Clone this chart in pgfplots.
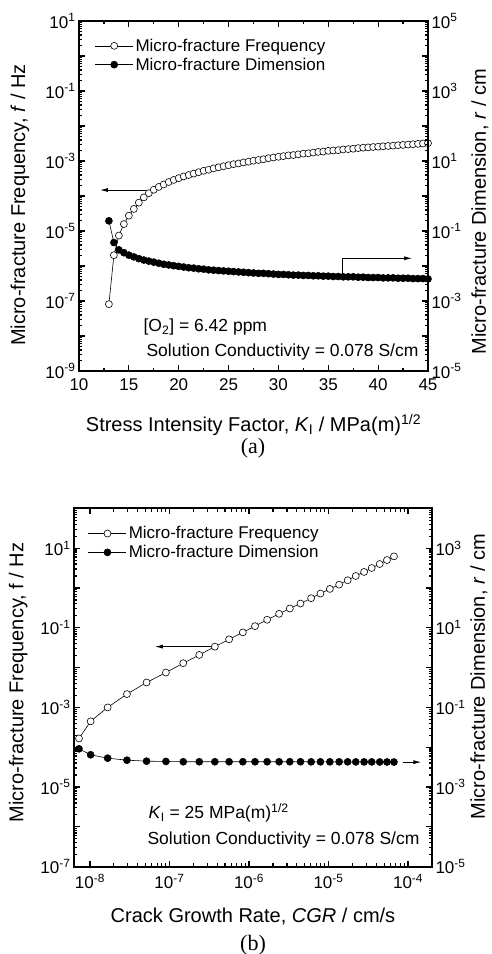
\documentclass[border=0pt]{standalone}
\usepackage{fontspec}
\setmainfont{Liberation Sans}
\newfontfamily\seriffont{Liberation Serif}
\usepackage{pgfplots}
\usepackage{pgfplotstable}
\pgfplotsset{compat=1.18}
\usetikzlibrary{arrows.meta}

\pgfplotstableread{
K f
13.0 8.13e-8
13.5 2.04e-6
14.0 7.41e-6
14.5 1.58e-5
15.0 2.75e-5
15.5 4.27e-5
16.0 6.46e-5
16.5 9.12e-5
17.0 1.20e-4
17.5 1.51e-4
18.0 1.82e-4
18.5 2.14e-4
19.0 2.51e-4
19.5 2.88e-4
20.0 3.24e-4
20.5 3.63e-4
21.0 3.98e-4
21.5 4.37e-4
22.0 4.79e-4
22.5 5.25e-4
23.0 5.62e-4
23.5 6.17e-4
24.0 6.61e-4
24.5 7.08e-4
25.0 7.59e-4
25.5 8.13e-4
26.0 8.51e-4
26.5 9.12e-4
27.0 9.55e-4
27.5 1.02e-3
28.0 1.07e-3
28.5 1.12e-3
29.0 1.20e-3
29.5 1.26e-3
30.0 1.32e-3
30.5 1.38e-3
31.0 1.45e-3
31.5 1.48e-3
32.0 1.55e-3
32.5 1.62e-3
33.0 1.66e-3
33.5 1.74e-3
34.0 1.82e-3
34.5 1.86e-3
35.0 1.95e-3
35.5 2.00e-3
36.0 2.04e-3
36.5 2.14e-3
37.0 2.19e-3
37.5 2.24e-3
38.0 2.34e-3
38.5 2.40e-3
39.0 2.45e-3
39.5 2.51e-3
40.0 2.57e-3
40.5 2.63e-3
41.0 2.69e-3
41.5 2.75e-3
42.0 2.82e-3
42.5 2.88e-3
43.0 2.95e-3
43.5 3.02e-3
44.0 3.09e-3
44.5 3.16e-3
45.0 3.24e-3
}\freqA

\pgfplotstableread{
K r
13.0 0.195
13.5 0.0468
14.0 0.0288
14.5 0.0240
15.0 0.0204
15.5 0.0182
16.0 0.0162
16.5 0.0148
17.0 0.0138
17.5 0.0129
18.0 0.0120
18.5 0.0112
19.0 0.0107
19.5 0.0102
20.0 0.00977
20.5 0.00933
21.0 0.00891
21.5 0.00871
22.0 0.00832
22.5 0.00813
23.0 0.00776
23.5 0.00759
24.0 0.00741
24.5 0.00724
25.0 0.00708
25.5 0.00692
26.0 0.00676
26.5 0.00661
27.0 0.00646
27.5 0.00631
28.0 0.00617
28.5 0.00617
29.0 0.00603
29.5 0.00589
30.0 0.00575
30.5 0.00575
31.0 0.00562
31.5 0.00550
32.0 0.00550
32.5 0.00537
33.0 0.00537
33.5 0.00525
34.0 0.00525
34.5 0.00513
35.0 0.00513
35.5 0.00501
36.0 0.00501
36.5 0.00490
37.0 0.00490
37.5 0.00490
38.0 0.00479
38.5 0.00479
39.0 0.00468
39.5 0.00468
40.0 0.00468
40.5 0.00457
41.0 0.00457
41.5 0.00457
42.0 0.00447
42.5 0.00447
43.0 0.00447
43.5 0.00437
44.0 0.00437
44.5 0.00437
45.0 0.00427
}\dimA

\pgfplotstableread{
CGR f r
7.28e-9 1.66e-4 0.00912
1.02e-8 4.48e-4 0.00646
1.67e-8 1.00e-3 0.00531
2.92e-8 2.16e-3 0.00473
5.15e-8 4.23e-3 0.00447
9.02e-8 7.52e-3 0.00439
1.49e-7 1.29e-2 0.00432
2.37e-7 2.08e-2 0.00432
3.72e-7 3.36e-2 0.00432
5.62e-7 5.12e-2 0.00432
8.36e-7 7.66e-2 0.00432
1.19e-6 0.110 0.00432
1.69e-6 0.159 0.00432
2.39e-6 0.224 0.00432
3.26e-6 0.305 0.00432
4.44e-6 0.406 0.00432
6.04e-6 0.553 0.00430
7.91e-6 0.723 0.00430
1.04e-5 0.946 0.00430
1.36e-5 1.21 0.00430
1.74e-5 1.56 0.00430
2.20e-5 2.00 0.00428
2.80e-5 2.52 0.00428
3.49e-5 3.17 0.00428
4.40e-5 3.99 0.00426
5.43e-5 5.02 0.00426
6.65e-5 6.21 0.00425
}\dataB

\tikzset{
  freq/.style={black, line width=0.6pt, mark=*, mark size=3.5pt, mark options={fill=white, line width=0.6pt}},
  dimen/.style={black, line width=0.6pt, mark=*, mark size=3.5pt, mark options={fill=black}},
  arr/.style={-{Latex[length=8pt,width=4pt]}, line width=0.8pt},
}
\pgfplotsset{
  base/.style={
    scale only axis,
    axis line style={line width=1.8pt},
    every tick/.style={line width=1.2pt, black},
    major tick length=6pt, minor tick length=3.5pt,
    tick align=inside,
    tick label style={font=\fontsize{17}{20}\selectfont},
    xticklabel style={yshift=-4pt},
    label style={font=\fontsize{20}{24}\selectfont},
    /pgf/number format/assume math mode=true,
    legend image code/.code={\draw[mark repeat=2,mark phase=2,##1] plot coordinates {(0pt,0pt)(19pt,0pt)(38pt,0pt)};},
  },
}

\begin{document}
\begin{tikzpicture}
% ---------------- panel (a) ----------------
\begin{axis}[base, at={(79pt,583pt)}, anchor=south west, width=349pt, height=350pt,
  xmin=10, xmax=45, xtick={10,15,...,45}, minor x tick num=1,
  ymode=log, ymin=1e-9, ymax=1e1,
  ytick={1e-9,1e-8,1e-7,1e-6,1e-5,1e-4,1e-3,1e-2,1e-1,1,10},
  yticklabels={10\textsuperscript{-9},{},10\textsuperscript{-7},{},10\textsuperscript{-5},{},10\textsuperscript{-3},{},10\textsuperscript{-1},{},10\textsuperscript{1}},
  ytick pos=left,
  xlabel={Stress Intensity Factor, \textit{K}\textsubscript{I} / MPa(m)\textsuperscript{1/2}},
  xlabel style={at={(axis description cs:0.5,-0.154)}, anchor=center},
  ylabel={Micro-fracture Frequency, \textit{f} / Hz},
  ylabel style={at={(axis description cs:-0.169,0.474)}, anchor=center},
]
\addplot[freq] table[x=K,y=f] {\freqA};
\draw[arr] (axis cs:17.1,1.48e-4) -- (axis cs:12.1,1.48e-4);
\end{axis}
\begin{axis}[base, at={(79pt,583pt)}, anchor=south west, width=349pt, height=350pt,
  xmin=10, xmax=45, hide x axis, axis y line*=right,
  ymode=log, ymin=1e-5, ymax=1e5,
  ytick={1e-5,1e-4,1e-3,1e-2,1e-1,1,1e1,1e2,1e3,1e4,1e5},
  yticklabels={10\textsuperscript{-5},{},10\textsuperscript{-3},{},10\textsuperscript{-1},{},10\textsuperscript{1},{},10\textsuperscript{3},{},10\textsuperscript{5}},
  yticklabel style={inner ysep=1pt},
  ylabel={Micro-fracture Dimension, \textit{r} / cm},
  ylabel style={at={(axis description cs:1.149,0.455)}, anchor=center},
  legend style={at={(axis description cs:0.045,0.955)}, anchor=north west, draw=none, fill=none,
    inner sep=0pt, font=\fontsize{17}{20}\selectfont, row sep=1pt},
  legend cell align=left,
]
\addlegendimage{freq}
\addlegendentry{Micro-fracture Frequency}
\addplot[dimen] table[x=K,y=r] {\dimA};
\addlegendentry{Micro-fracture Dimension}
\draw[arr] (axis cs:36.4,5.53e-3) -- (axis cs:36.4,1.66e-2) -- (axis cs:43.4,1.66e-2);
\end{axis}
\node[anchor=west, font=\fontsize{17.5}{20}\selectfont] at (140pt,627pt) {[O\textsubscript{2}] = 6.42 ppm};
\node[anchor=west, font=\fontsize{17.5}{20}\selectfont] at (143pt,602pt) {Solution Conductivity = 0.078 S/cm};
\node[font=\seriffont\fontsize{22}{26}\selectfont] at (253pt,506pt) {(a)};

% ---------------- panel (b) ----------------
\begin{axis}[base, at={(74pt,87.3pt)}, anchor=south west, width=358pt, height=358.4pt,
  xmode=log, xmin=6.3e-9, xmax=2e-4,
  xtick={1e-8,1e-7,1e-6,1e-5,1e-4},
  xticklabels={10\textsuperscript{-8},10\textsuperscript{-7},10\textsuperscript{-6},10\textsuperscript{-5},10\textsuperscript{-4}},
  ymode=log, ymin=1e-7, ymax=1e2,
  ytick={1e-7,1e-6,1e-5,1e-4,1e-3,1e-2,1e-1,1,10,100},
  yticklabels={10\textsuperscript{-7},{},10\textsuperscript{-5},{},10\textsuperscript{-3},{},10\textsuperscript{-1},{},10\textsuperscript{1},{}},
  ytick pos=left,
  xlabel={Crack Growth Rate, \textit{CGR} / cm/s},
  xlabel style={at={(axis description cs:0.5,-0.1395)}, anchor=center},
  ylabel={Micro-fracture Frequency, f / Hz},
  ylabel style={at={(axis description cs:-0.156,0.514)}, anchor=center},
]
\addplot[freq] table[x=CGR,y=f] {\dataB};
\draw[arr] (axis cs:3.72e-7,3.36e-2) -- (axis cs:6.56e-8,3.36e-2);
\end{axis}
\begin{axis}[base, at={(74pt,87.3pt)}, anchor=south west, width=358pt, height=358.4pt,
  xmode=log, xmin=6.3e-9, xmax=2e-4, hide x axis, axis y line*=right,
  ymode=log, ymin=1e-5, ymax=1e4,
  ytick={1e-5,1e-4,1e-3,1e-2,1e-1,1,10,100,1e3,1e4},
  yticklabels={10\textsuperscript{-5},{},10\textsuperscript{-3},{},10\textsuperscript{-1},{},10\textsuperscript{1},{},10\textsuperscript{3},{}},
  yticklabel style={inner ysep=1pt},
  ylabel={Micro-fracture Dimension, \textit{r} / cm},
  ylabel style={at={(axis description cs:1.131,0.53)}, anchor=center},
  legend style={at={(axis description cs:0.039,0.955)}, anchor=north west, draw=none, fill=none,
    inner sep=0pt, font=\fontsize{17}{20}\selectfont, row sep=1pt},
  legend cell align=left,
]
\addlegendimage{freq}
\addlegendentry{Micro-fracture Frequency}
\addplot[dimen] table[x=CGR,y=r] {\dataB};
\addlegendentry{Micro-fracture Dimension}
\draw[arr] (axis cs:8.63e-5,4.22e-3) -- (axis cs:1.47e-4,4.22e-3);
\end{axis}
\node[anchor=west, font=\fontsize{17.5}{20}\selectfont] at (145pt,141pt) {\textit{K}\textsubscript{I} = 25 MPa(m)\textsuperscript{1/2}};
\node[anchor=west, font=\fontsize{17.5}{20}\selectfont] at (144pt,114pt) {Solution Conductivity = 0.078 S/cm};
\node[font=\seriffont\fontsize{22}{26}\selectfont] at (253pt,9pt) {(b)};

\pgfresetboundingbox
\useasboundingbox (0,0) rectangle (492pt,954pt);
\end{tikzpicture}
\end{document}
